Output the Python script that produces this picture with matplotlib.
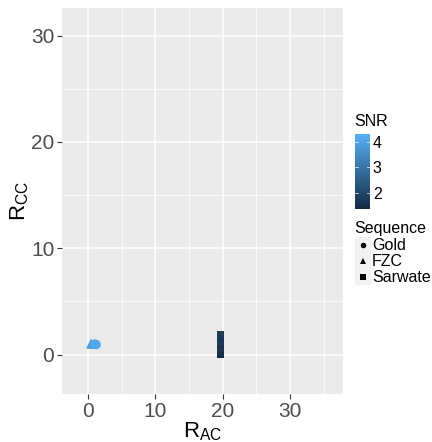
import matplotlib
matplotlib.use("Agg")
import matplotlib.pyplot as plt
import numpy as np
from matplotlib.colors import LinearSegmentedColormap, Normalize
from matplotlib.patches import Rectangle

plt.rcParams["font.family"] = ["Liberation Sans", "DejaVu Sans"]
plt.rcParams["mathtext.default"] = "regular"

# data: (R_AC, R_CC, SNR) per sequence
gold_rac = [1.2, 1.0]
gold_rcc = [0.95, 1.0]
gold_snr = [4.2, 4.1]

fzc_rac = [0.4, 0.5]
fzc_rcc = [1.05, 1.0]
fzc_snr = [4.0, 3.9]

sarwate_rac = [19.7, 19.7, 19.7, 19.7, 19.7, 19.7, 19.7]
sarwate_rcc = [0.0, 0.3, 0.6, 0.9, 1.2, 1.5, 1.9]
sarwate_snr = [1.4, 1.5, 1.6, 1.55, 1.7, 1.6, 1.75]

snr_min, snr_max = 1.37, 4.31
ticks = [0, 10, 20, 30]
legend_labels = ["Gold", "FZC", "Sarwate"]

cmap = LinearSegmentedColormap.from_list("gg", ["#132B43", "#56B1F7"])
norm = Normalize(snr_min, snr_max)

W, H = 432, 442
fig = plt.figure(figsize=(W / 100, H / 100), dpi=100)
ax = fig.add_axes([62 / W, 1 - 394 / H, (343 - 62) / W, (394 - 8) / H])
ax.set_facecolor("#EBEBEB")
for s in ax.spines.values():
    s.set_visible(False)

ax.scatter(sarwate_rac, sarwate_rcc, c=sarwate_snr, cmap=cmap, norm=norm, marker="s", s=26, linewidths=0, zorder=3)
ax.scatter(fzc_rac, fzc_rcc, c=fzc_snr, cmap=cmap, norm=norm, marker="^", s=48, linewidths=0, zorder=3)
ax.scatter(gold_rac, gold_rcc, c=gold_snr, cmap=cmap, norm=norm, marker="o", s=45, linewidths=0, zorder=3)

ax.set_xlim(-3.9, 37.9)
ax.set_ylim(-3.7, 32.6)
ax.set_xticks(ticks)
ax.set_yticks(ticks)
ax.set_xticks([5, 15, 25, 35], minor=True)
ax.set_yticks([5, 15, 25], minor=True)
ax.grid(True, which="major", color="white", lw=1.1, zorder=0)
ax.grid(True, which="minor", color="white", lw=0.55, zorder=0)
ax.set_axisbelow(True)
ax.tick_params(which="major", length=3.5, width=0.8, color="#333333", labelsize=15, labelcolor="#4D4D4D", pad=2)
ax.tick_params(which="minor", length=0)

ax.set_xlabel("R$_{AC}$", fontsize=16, labelpad=0)
ax.set_ylabel("R$_{CC}$", fontsize=16, labelpad=0)

# colour bar legend
cax = fig.add_axes([355 / W, 1 - 209 / H, 15 / W, 75 / H])
grad = np.linspace(snr_min, snr_max, 200).reshape(-1, 1)
cax.imshow(grad, aspect="auto", cmap=cmap, norm=norm, origin="lower",
           extent=[0, 1, snr_min, snr_max])
cax.set_xlim(0, 1)
cax.set_ylim(snr_min, snr_max)
cax.set_xticks([])
cax.set_yticks([2, 3, 4])
cax.yaxis.tick_right()
cax.tick_params(axis="y", length=0, labelsize=11.5, pad=2)
for v in [2, 3, 4]:
    cax.plot([0, 0.2], [v, v], color="white", lw=0.6, alpha=0.8)
    cax.plot([0.8, 1], [v, v], color="white", lw=0.6, alpha=0.8)
for s in cax.spines.values():
    s.set_visible(False)
fig.text(354 / W, 1 - 122 / H, "SNR", fontsize=11.5, va="center", ha="left")

# shape legend
fig.text(354 / W, 1 - 228 / H, "Sequence", fontsize=11.5, va="center", ha="left")
lax = fig.add_axes([0, 0, 1, 1], facecolor="none")
lax.set_xlim(0, W)
lax.set_ylim(H, 0)
lax.axis("off")
key_y = [245, 261, 277]
key_markers = ["o", "^", "s"]
for y, m, lab in zip(key_y, key_markers, legend_labels):
    lax.add_patch(Rectangle((355, y - 8), 16, 16, facecolor="#F2F2F2", edgecolor="none"))
    lax.plot(363, y, marker=m, ms=4, color="black", mew=0)
    lax.text(372, y, lab, fontsize=11.5, va="center", ha="left")

fig.savefig("out.png", dpi=100)
